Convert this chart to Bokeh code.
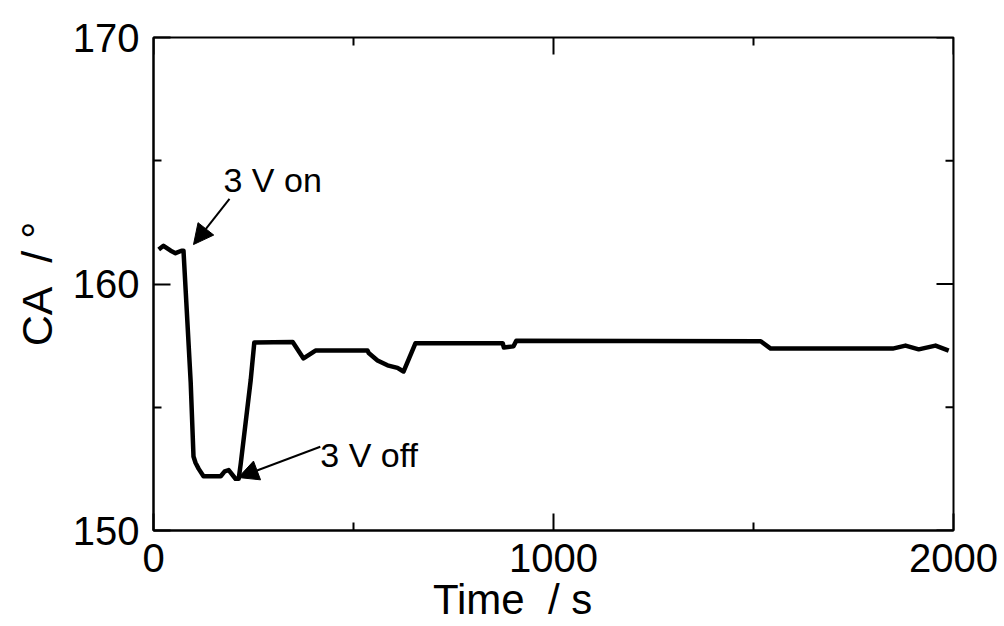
import math
from bokeh.plotting import figure
from bokeh.models import Range1d, FixedTicker, Arrow, NormalHead, Label
from bokeh.embed import file_html
from bokeh.resources import INLINE

# Contact angle trace over time
time_s = [13, 25, 43, 55, 70, 75, 93, 100, 105, 113, 125, 168, 178, 188, 205,
          213, 218, 243, 252, 348, 375, 405, 535, 538, 560, 585, 610, 625, 655,
          873, 876, 900, 907, 1518, 1543, 1848, 1880, 1913, 1955, 1988]
ca_deg = [161.4, 161.55, 161.35, 161.25, 161.35, 161.35, 156.0, 153.0, 152.75,
          152.5, 152.2, 152.2, 152.4, 152.45, 152.1, 152.1, 152.7, 156.1,
          157.63, 157.65, 156.98, 157.3, 157.3, 157.2, 156.9, 156.7, 156.6,
          156.45, 157.6, 157.6, 157.42, 157.47, 157.7, 157.68, 157.38, 157.38,
          157.5, 157.35, 157.5, 157.3]

x_range = (0, 2000)
y_range = (150, 170)
x_major = [0, 1000, 2000]
x_minor = [500, 1500]
y_major = [150, 160, 170]
y_minor = [155, 165]

NB = "\u00a0"
# trailing non-breaking spaces pull the x title a little left of centre
x_title = "Time" + NB + " / s" + NB * 7
y_title = "CA" + NB + " / °"

# annotation text anchors and arrows (data units)
on_text = (175, 163.43)
on_arrow = (190, 163.45, 100, 161.6)
off_text = (417, 152.31)
off_arrow = (417, 153.4, 212, 152.15)

FONT = "Liberation Sans"
MAJOR_LEN = 17
MINOR_LEN = 8

p = figure(width=1004, height=626, output_backend="svg", toolbar_location=None,
           x_range=Range1d(*x_range), y_range=Range1d(*y_range),
           min_border_left=153, min_border_right=51, min_border_top=37,
           min_border_bottom=96, x_axis_label=x_title, y_axis_label=y_title)
p.grid.visible = False
p.outline_line_color = "black"
p.outline_line_width = 2
p.background_fill_color = "white"
p.border_fill_color = "white"

for ax, ticker in ((p.xaxis[0], FixedTicker(ticks=x_major, minor_ticks=x_minor)),
                   (p.yaxis[0], FixedTicker(ticks=y_major, minor_ticks=y_minor))):
    ax.ticker = ticker
    ax.axis_line_color = "black"
    ax.axis_line_width = 2
    ax.major_tick_in = MAJOR_LEN
    ax.major_tick_out = 0
    ax.minor_tick_in = MINOR_LEN
    ax.minor_tick_out = 0
    ax.major_tick_line_width = 2
    ax.minor_tick_line_width = 2
    ax.major_tick_line_color = "black"
    ax.minor_tick_line_color = "black"
    ax.major_label_text_font = FONT
    ax.major_label_text_font_size = "40px"
    ax.major_label_text_color = "black"
    ax.axis_label_text_font = FONT
    ax.axis_label_text_font_style = "normal"
    ax.axis_label_text_color = "black"
p.xaxis[0].axis_label_text_font_size = "42px"
p.yaxis[0].axis_label_text_font_size = "43px"
p.xaxis[0].major_label_standoff = 13
p.xaxis[0].axis_label_standoff = 1
p.xaxis[0].axis_label_text_baseline = "alphabetic"
p.yaxis[0].major_label_standoff = 14
p.yaxis[0].axis_label_standoff = 9

# mirrored inward ticks on the top and right edges (half of each dash is
# clipped away by the frame)
for ticks, length in ((x_major, MAJOR_LEN), (x_minor, MINOR_LEN)):
    p.scatter(ticks, [y_range[1]] * len(ticks), marker="dash", size=2 * length,
              angle=math.pi / 2, line_color="black", line_width=2)
for ticks, length in ((y_major, MAJOR_LEN), (y_minor, MINOR_LEN)):
    p.scatter([x_range[1]] * len(ticks), ticks, marker="dash", size=2 * length,
              line_color="black", line_width=2)

p.line(time_s, ca_deg, line_color="black", line_width=4.5, line_join="round")

for (tx, ty), txt in ((on_text, "3 V on"), (off_text, "3 V off")):
    p.add_layout(Label(x=tx, y=ty, text=txt, text_font=FONT,
                       text_font_size="34px", text_color="black"))

for (x0, y0, x1, y1) in (on_arrow, off_arrow):
    p.add_layout(Arrow(x_start=x0, y_start=y0, x_end=x1, y_end=y1,
                       line_color="black", line_width=2,
                       end=NormalHead(size=20, fill_color="black",
                                      line_color="black")))

open("out.html", "w").write(file_html(p, INLINE))
